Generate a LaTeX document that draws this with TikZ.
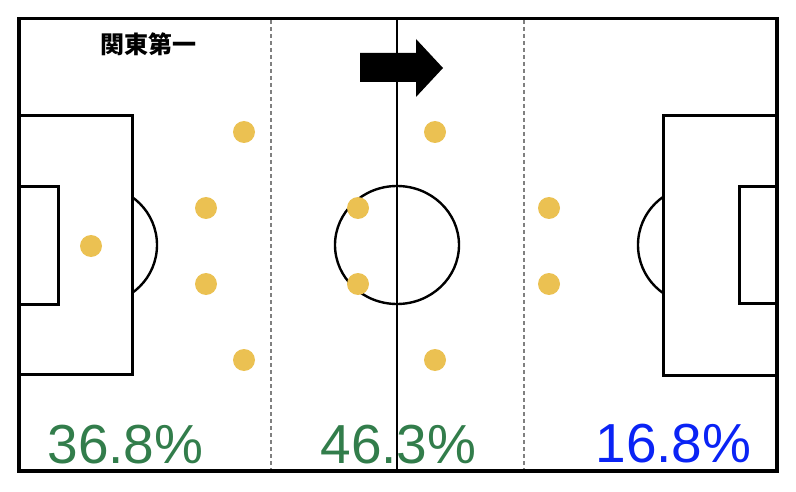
\documentclass[tikz,border=0pt]{standalone}
\usepackage{fontspec}
\setmainfont{Liberation Sans}
\newfontfamily\cjk{Noto Sans CJK JP}
\usepackage{tikz}
\definecolor{dotYellow}{RGB}{235,193,82}
\definecolor{pctGreen}{RGB}{50,125,75}
\definecolor{pctBlue}{RGB}{10,35,245}
\tikzstyle{pitchLine} = [draw=black, line width=3pt]
\tikzstyle{thinLine} = [draw=black, line width=2.4pt]
\tikzstyle{thirdLine} = [draw=gray, line width=2.5pt, dash pattern=on 4pt off 3pt]
\tikzstyle{player} = [circle, fill=dotYellow, minimum size=22pt, inner sep=0pt]
\tikzstyle{pct} = [anchor=base, inner sep=0pt, font=\fontsize{55}{60}\selectfont]

\begin{document}
\begin{tikzpicture}[x=1pt, y=-1pt]
		\useasboundingbox (0,0) rectangle (796,492);
		% thirds
		\draw [thirdLine] (271,20) -- (271,470);
		\draw [thirdLine] (524,20) -- (524,470);
		% halfway line and centre circle
		\draw [thinLine] (397,18.5) -- (397,471);
		\draw [thinLine] (397,245) ellipse [x radius=62, y radius=59];
		% left box
		\draw [pitchLine] (19,116) -- (132,116) -- (132,374) -- (19,374);
		\draw [pitchLine] (19,187) -- (58,187) -- (58,304) -- (19,304);
		\begin{scope}
			\clip (133,150) rectangle (200,340);
			\draw [thinLine] (98.4,245) circle (58.6);
		\end{scope}
		% right box
		\draw [pitchLine] (777,116) -- (663,116) -- (663,375) -- (777,375);
		\draw [pitchLine] (777,187) -- (739,187) -- (739,303) -- (777,303);
		\begin{scope}
			\clip (600,150) rectangle (662,340);
			\draw [thinLine] (696.6,245) circle (58.6);
		\end{scope}
		% outline
		\draw [draw=black, line width=3.5pt] (19,18.5) rectangle (777,471);
		% attacking direction
		\fill [black] (360,53) -- (416,53) -- (416,39) -- (443,68) -- (416,97) -- (416,82) -- (360,82) -- cycle;
		% players
		\node (gk) [player] at (91,246) {};
		\node (cbTop) [player] at (206,208) {};
		\node (cbBot) [player] at (206,284) {};
		\node (sbTop) [player] at (244,132) {};
		\node (sbBot) [player] at (244,360) {};
		\node (dmTop) [player] at (358,208) {};
		\node (dmBot) [player] at (358,284) {};
		\node (wgTop) [player] at (435,132) {};
		\node (wgBot) [player] at (435,360) {};
		\node (fwTop) [player] at (549,208) {};
		\node (fwBot) [player] at (549,284) {};
		% labels
		\node (team) at (148.5,44) {\cjk\bfseries\fontsize{24}{27}\selectfont 関東第一};
		\node (pctDef) [pct, text=pctGreen] at (125.5,463) {36.8\%};
		\node (pctMid) [pct, text=pctGreen] at (398.5,463) {46.3\%};
		\node (pctAtt) [pct, text=pctBlue] at (673.5,462) {16.8\%};
	\end{tikzpicture}
\end{document}
